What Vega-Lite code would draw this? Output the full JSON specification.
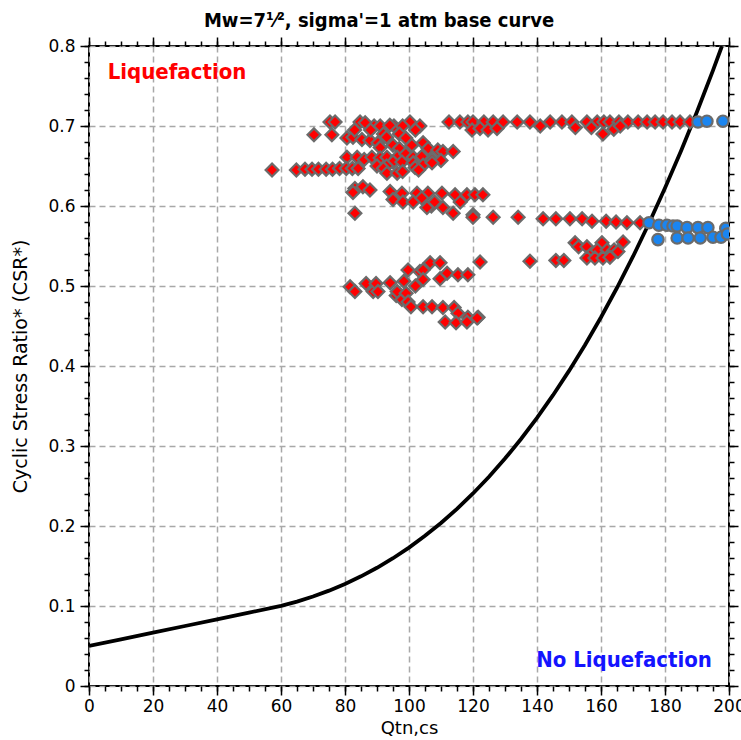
{
  "$schema": "https://vega.github.io/schema/vega-lite/v6.json",
  "width": 640,
  "height": 640,
  "autosize": {"type": "none"},
  "padding": {"left": 89, "top": 46, "right": 12, "bottom": 54},
  "background": "white",
  "title": {
    "text": "Mw=7¹⁄², sigma'=1 atm base curve",
    "font": "DejaVu Sans Condensed, Liberation Sans Narrow, DejaVu Sans",
    "fontSize": 20,
    "fontWeight": "bold",
    "color": "#000",
    "anchor": "middle",
    "dx": -30,
    "offset": 5
  },
  "datasets": {
    "curve": [
      {"q": 0, "csr": 0.05}, {"q": 10, "csr": 0.0583}, {"q": 20, "csr": 0.0667}, {"q": 30, "csr": 0.075},
      {"q": 40, "csr": 0.0833}, {"q": 50, "csr": 0.0917}, {"q": 60, "csr": 0.1001}, {"q": 65, "csr": 0.1055},
      {"q": 70, "csr": 0.1119}, {"q": 75, "csr": 0.1192}, {"q": 80, "csr": 0.1276}, {"q": 85, "csr": 0.1371},
      {"q": 90, "csr": 0.1478}, {"q": 95, "csr": 0.1597}, {"q": 100, "csr": 0.173}, {"q": 105, "csr": 0.1877},
      {"q": 110, "csr": 0.2038}, {"q": 115, "csr": 0.2214}, {"q": 120, "csr": 0.2407}, {"q": 125, "csr": 0.2616},
      {"q": 130, "csr": 0.2843}, {"q": 135, "csr": 0.3088}, {"q": 140, "csr": 0.3352}, {"q": 145, "csr": 0.3635},
      {"q": 150, "csr": 0.3939}, {"q": 155, "csr": 0.4263}, {"q": 160, "csr": 0.4609}, {"q": 165, "csr": 0.4978},
      {"q": 170, "csr": 0.5369}, {"q": 175, "csr": 0.5784}, {"q": 180, "csr": 0.6224}, {"q": 185, "csr": 0.6689},
      {"q": 190, "csr": 0.7179}, {"q": 195, "csr": 0.7696}, {"q": 197.8, "csr": 0.8}
    ],
    "liq": [
      {"q": 75.3, "csr": 0.705}, {"q": 76.9, "csr": 0.705}, {"q": 84.7, "csr": 0.705}, {"q": 86.3, "csr": 0.704},
      {"q": 100.3, "csr": 0.705}, {"q": 112.5, "csr": 0.705}, {"q": 115.9, "csr": 0.705}, {"q": 118.4, "csr": 0.705},
      {"q": 120, "csr": 0.705}, {"q": 123.4, "csr": 0.705}, {"q": 126.3, "csr": 0.705}, {"q": 129.4, "csr": 0.705},
      {"q": 133.8, "csr": 0.705}, {"q": 137.8, "csr": 0.705}, {"q": 144.1, "csr": 0.705}, {"q": 147.8, "csr": 0.705},
      {"q": 150.9, "csr": 0.705}, {"q": 155.6, "csr": 0.705}, {"q": 158.8, "csr": 0.705}, {"q": 160.9, "csr": 0.705},
      {"q": 162.8, "csr": 0.705}, {"q": 165.6, "csr": 0.705}, {"q": 168.4, "csr": 0.705}, {"q": 171.6, "csr": 0.705},
      {"q": 174.4, "csr": 0.705}, {"q": 176.9, "csr": 0.705}, {"q": 179.4, "csr": 0.705}, {"q": 182.2, "csr": 0.705},
      {"q": 184.7, "csr": 0.705}, {"q": 187.8, "csr": 0.705},
      {"q": 89.1, "csr": 0.7}, {"q": 95.3, "csr": 0.7}, {"q": 103.4, "csr": 0.7}, {"q": 91, "csr": 0.7},
      {"q": 94, "csr": 0.701}, {"q": 98, "csr": 0.7}, {"q": 119.7, "csr": 0.695}, {"q": 122.2, "csr": 0.697},
      {"q": 124.7, "csr": 0.695}, {"q": 127.5, "csr": 0.697}, {"q": 141, "csr": 0.7}, {"q": 152, "csr": 0.698},
      {"q": 157, "csr": 0.698}, {"q": 160.6, "csr": 0.69}, {"q": 164, "csr": 0.696}, {"q": 166, "csr": 0.7},
      {"q": 70.3, "csr": 0.689}, {"q": 75.9, "csr": 0.689}, {"q": 80.6, "csr": 0.685}, {"q": 82.5, "csr": 0.686},
      {"q": 83, "csr": 0.695}, {"q": 85.3, "csr": 0.683}, {"q": 87.8, "csr": 0.682}, {"q": 88, "csr": 0.695},
      {"q": 90.3, "csr": 0.679}, {"q": 92, "csr": 0.69}, {"q": 93, "csr": 0.686}, {"q": 95, "csr": 0.676},
      {"q": 97, "csr": 0.69}, {"q": 99, "csr": 0.685}, {"q": 100.9, "csr": 0.676}, {"q": 102, "csr": 0.695},
      {"q": 104.4, "csr": 0.679},
      {"q": 91, "csr": 0.673}, {"q": 97, "csr": 0.672}, {"q": 106, "csr": 0.672}, {"q": 109, "csr": 0.67},
      {"q": 110.6, "csr": 0.668}, {"q": 113.8, "csr": 0.668},
      {"q": 80.6, "csr": 0.661}, {"q": 83.8, "csr": 0.661}, {"q": 86, "csr": 0.658}, {"q": 88.4, "csr": 0.661},
      {"q": 91, "csr": 0.66}, {"q": 93.1, "csr": 0.661}, {"q": 96.3, "csr": 0.661}, {"q": 99, "csr": 0.665},
      {"q": 101.3, "csr": 0.661}, {"q": 104, "csr": 0.662}, {"q": 107.2, "csr": 0.658}, {"q": 110, "csr": 0.657},
      {"q": 95, "csr": 0.655}, {"q": 97.8, "csr": 0.655}, {"q": 101.3, "csr": 0.654}, {"q": 104.4, "csr": 0.651},
      {"q": 107.2, "csr": 0.654}, {"q": 90, "csr": 0.65}, {"q": 93, "csr": 0.65},
      {"q": 57.2, "csr": 0.645}, {"q": 64.8, "csr": 0.645}, {"q": 67.5, "csr": 0.646}, {"q": 69.7, "csr": 0.646},
      {"q": 71.7, "csr": 0.646}, {"q": 74.1, "csr": 0.646}, {"q": 76.1, "csr": 0.646}, {"q": 78.3, "csr": 0.647},
      {"q": 80.4, "csr": 0.647}, {"q": 82.3, "csr": 0.647}, {"q": 84.1, "csr": 0.647}, {"q": 92, "csr": 0.647},
      {"q": 93.1, "csr": 0.641}, {"q": 96.3, "csr": 0.641}, {"q": 98, "csr": 0.643}, {"q": 101.9, "csr": 0.648},
      {"q": 103, "csr": 0.645},
      {"q": 83.1, "csr": 0.622}, {"q": 85.6, "csr": 0.624}, {"q": 87.8, "csr": 0.62}, {"q": 82.5, "csr": 0.617},
      {"q": 94.1, "csr": 0.618}, {"q": 97.8, "csr": 0.616}, {"q": 102.5, "csr": 0.616}, {"q": 105.9, "csr": 0.616},
      {"q": 110.3, "csr": 0.616}, {"q": 114.4, "csr": 0.614}, {"q": 118.1, "csr": 0.614}, {"q": 120.6, "csr": 0.614},
      {"q": 123.1, "csr": 0.614}, {"q": 95, "csr": 0.608}, {"q": 98.1, "csr": 0.605}, {"q": 101.3, "csr": 0.605},
      {"q": 104, "csr": 0.61}, {"q": 107, "csr": 0.6}, {"q": 108, "csr": 0.605}, {"q": 116, "csr": 0.605},
      {"q": 105.6, "csr": 0.598}, {"q": 110.6, "csr": 0.598}, {"q": 113.8, "csr": 0.591}, {"q": 120, "csr": 0.589},
      {"q": 83.1, "csr": 0.591},
      {"q": 120, "csr": 0.586}, {"q": 126.3, "csr": 0.586}, {"q": 134.1, "csr": 0.586}, {"q": 141.9, "csr": 0.584},
      {"q": 145.9, "csr": 0.584}, {"q": 150.3, "csr": 0.584}, {"q": 154.1, "csr": 0.584}, {"q": 157.2, "csr": 0.581},
      {"q": 161.6, "csr": 0.581}, {"q": 164.7, "csr": 0.58}, {"q": 168.1, "csr": 0.579}, {"q": 172.2, "csr": 0.579},
      {"q": 151.9, "csr": 0.554}, {"q": 153, "csr": 0.549}, {"q": 155.6, "csr": 0.549}, {"q": 157, "csr": 0.54},
      {"q": 160.3, "csr": 0.554}, {"q": 158.8, "csr": 0.545}, {"q": 161.9, "csr": 0.545}, {"q": 163, "csr": 0.54},
      {"q": 164.1, "csr": 0.545}, {"q": 165.3, "csr": 0.543}, {"q": 166.9, "csr": 0.555}, {"q": 155.6, "csr": 0.535},
      {"q": 158.1, "csr": 0.535}, {"q": 160.6, "csr": 0.535}, {"q": 162.8, "csr": 0.536}, {"q": 137.8, "csr": 0.531},
      {"q": 145.9, "csr": 0.532}, {"q": 148.4, "csr": 0.532},
      {"q": 81.6, "csr": 0.499}, {"q": 83.1, "csr": 0.493}, {"q": 86.6, "csr": 0.503}, {"q": 88.8, "csr": 0.493},
      {"q": 89.7, "csr": 0.503}, {"q": 90.3, "csr": 0.493}, {"q": 94.1, "csr": 0.504}, {"q": 96, "csr": 0.488},
      {"q": 96.3, "csr": 0.493}, {"q": 97.8, "csr": 0.483}, {"q": 98.4, "csr": 0.506}, {"q": 99.1, "csr": 0.491},
      {"q": 99.7, "csr": 0.48}, {"q": 100.6, "csr": 0.474}, {"q": 99.7, "csr": 0.52}, {"q": 102, "csr": 0.5},
      {"q": 103.4, "csr": 0.518}, {"q": 104.4, "csr": 0.52}, {"q": 104.4, "csr": 0.508}, {"q": 106.6, "csr": 0.529},
      {"q": 109.7, "csr": 0.529}, {"q": 109.7, "csr": 0.509}, {"q": 111.9, "csr": 0.516}, {"q": 115.3, "csr": 0.514},
      {"q": 118.4, "csr": 0.514}, {"q": 122.2, "csr": 0.53}, {"q": 104.4, "csr": 0.474}, {"q": 107.2, "csr": 0.474},
      {"q": 110.6, "csr": 0.473}, {"q": 114.1, "csr": 0.473}, {"q": 115.3, "csr": 0.466}, {"q": 118.4, "csr": 0.461},
      {"q": 121.6, "csr": 0.461}, {"q": 111.3, "csr": 0.455}, {"q": 114.7, "csr": 0.454}, {"q": 118.1, "csr": 0.455},
      {"q": 121.3, "csr": 0.46}
    ],
    "noliq": [
      {"q": 190.3, "csr": 0.705}, {"q": 193.1, "csr": 0.706}, {"q": 198.1, "csr": 0.706},
      {"q": 175, "csr": 0.579}, {"q": 178.1, "csr": 0.576}, {"q": 180.6, "csr": 0.576}, {"q": 182.5, "csr": 0.575},
      {"q": 183.8, "csr": 0.575}, {"q": 186.9, "csr": 0.573}, {"q": 190.3, "csr": 0.573}, {"q": 193.4, "csr": 0.573},
      {"q": 199, "csr": 0.572}, {"q": 177.8, "csr": 0.558}, {"q": 183.8, "csr": 0.56}, {"q": 187.2, "csr": 0.56},
      {"q": 191, "csr": 0.56}, {"q": 195, "csr": 0.561}, {"q": 197.5, "csr": 0.561}, {"q": 199.5, "csr": 0.565}
    ],
    "labels": [
      {"q": 27.5, "csr": 0.7675, "t": "Liquefaction"},
      {"q": 167.2, "csr": 0.0325, "t": "No Liquefaction"}
    ]
  },
  "layer": [
    {
      "data": {"name": "curve"},
      "mark": {"type": "line", "color": "#000", "strokeWidth": 3.8, "clip": true},
      "encoding": {
        "x": {"field": "q", "type": "quantitative",
              "scale": {"domain": [0, 200], "nice": false, "zero": false},
              "axis": {"orient": "bottom", "values": [0, 20, 40, 60, 80, 100, 120, 140, 160, 180, 200],
                       "title": "Qtn,cs", "grid": true, "tickSize": 9, "labelPadding": 3, "titlePadding": 5,
                       "labelFlush": false, "labelOverlap": false}},
        "y": {"field": "csr", "type": "quantitative",
              "scale": {"domain": [0, 0.8], "nice": false},
              "axis": {"orient": "left", "values": [0, 0.1, 0.2, 0.3, 0.4, 0.5, 0.6, 0.7, 0.8], "format": ".1~f",
                       "title": "Cyclic Stress Ratio* (CSR*)", "titleFontSize": 19, "grid": true, "tickSize": 9, "labelPadding": 5,
                       "titlePadding": 17, "labelFlush": false, "labelOverlap": false}}
      }
    },
    {
      "data": {"name": "liq"},
      "mark": {"type": "point", "shape": "diamond", "filled": true, "fill": "#ff0000", "stroke": "#6b6b6b",
               "strokeWidth": 2.2, "size": 165, "opacity": 1, "clip": true},
      "encoding": {
        "x": {"field": "q", "type": "quantitative",
              "axis": {"orient": "top", "values": [0, 20, 40, 60, 80, 100, 120, 140, 160, 180, 200],
                       "labels": false, "grid": false, "title": null, "tickSize": 9}},
        "y": {"field": "csr", "type": "quantitative",
              "axis": {"orient": "right", "values": [0, 0.1, 0.2, 0.3, 0.4, 0.5, 0.6, 0.7, 0.8],
                       "labels": false, "grid": false, "title": null, "tickSize": 9}}
      }
    },
    {
      "data": {"name": "noliq"},
      "mark": {"type": "point", "shape": "circle", "filled": true, "fill": "#1a85f0", "stroke": "#6b6b6b",
               "strokeWidth": 2.2, "size": 130, "opacity": 1, "clip": true},
      "encoding": {
        "x": {"field": "q", "type": "quantitative",
              "axis": {"orient": "bottom", "values": [0, 5, 10, 15, 20, 25, 30, 35, 40, 45, 50, 55, 60, 65, 70, 75, 80, 85, 90, 95, 100, 105, 110, 115, 120, 125, 130, 135, 140, 145, 150, 155, 160, 165, 170, 175, 180, 185, 190, 195, 200],
                       "labels": false, "grid": false, "title": null, "tickSize": 5}},
        "y": {"field": "csr", "type": "quantitative",
              "axis": {"orient": "left", "values": [0, 0.02, 0.04, 0.06, 0.08, 0.1, 0.12, 0.14, 0.16, 0.18, 0.2, 0.22, 0.24, 0.26, 0.28, 0.3, 0.32, 0.34, 0.36, 0.38, 0.4, 0.42, 0.44, 0.46, 0.48, 0.5, 0.52, 0.54, 0.56, 0.58, 0.6, 0.62, 0.64, 0.66, 0.68, 0.7, 0.72, 0.74, 0.76, 0.78, 0.8],
                       "labels": false, "grid": false, "title": null, "tickSize": 5}}
      }
    },
    {
      "data": {"name": "labels"},
      "mark": {"type": "text", "fontWeight": "bold", "fontSize": 22, "align": "center", "baseline": "middle",
               "font": "DejaVu Sans Condensed, Liberation Sans Narrow, DejaVu Sans"},
      "encoding": {
        "x": {"field": "q", "type": "quantitative",
              "axis": {"orient": "top", "values": [0, 5, 10, 15, 20, 25, 30, 35, 40, 45, 50, 55, 60, 65, 70, 75, 80, 85, 90, 95, 100, 105, 110, 115, 120, 125, 130, 135, 140, 145, 150, 155, 160, 165, 170, 175, 180, 185, 190, 195, 200],
                       "labels": false, "grid": false, "title": null, "tickSize": 5}},
        "y": {"field": "csr", "type": "quantitative",
              "axis": {"orient": "right", "values": [0, 0.02, 0.04, 0.06, 0.08, 0.1, 0.12, 0.14, 0.16, 0.18, 0.2, 0.22, 0.24, 0.26, 0.28, 0.3, 0.32, 0.34, 0.36, 0.38, 0.4, 0.42, 0.44, 0.46, 0.48, 0.5, 0.52, 0.54, 0.56, 0.58, 0.6, 0.62, 0.64, 0.66, 0.68, 0.7, 0.72, 0.74, 0.76, 0.78, 0.8],
                       "labels": false, "grid": false, "title": null, "tickSize": 5}},
        "text": {"field": "t", "type": "nominal"},
        "color": {"field": "t", "type": "nominal", "legend": null,
                  "scale": {"domain": ["Liquefaction", "No Liquefaction"], "range": ["#ff0000", "#1414ff"]}}
      }
    }
  ],
  "resolve": {"axis": {"x": "independent", "y": "independent"}},
  "config": {
    "font": "DejaVu Sans",
    "view": {"stroke": "#000", "strokeWidth": 2},
    "axis": {
      "domain": false,
      "tickColor": "#000",
      "tickWidth": 1.5,
      "labelColor": "#000",
      "labelFont": "DejaVu Sans",
      "labelFontSize": 17,
      "titleFont": "DejaVu Sans",
      "titleFontSize": 18,
      "titleFontWeight": "normal",
      "titleColor": "#000",
      "gridColor": "#a8a8a8",
      "gridDash": [6, 4],
      "gridWidth": 1.5
    }
  }
}
